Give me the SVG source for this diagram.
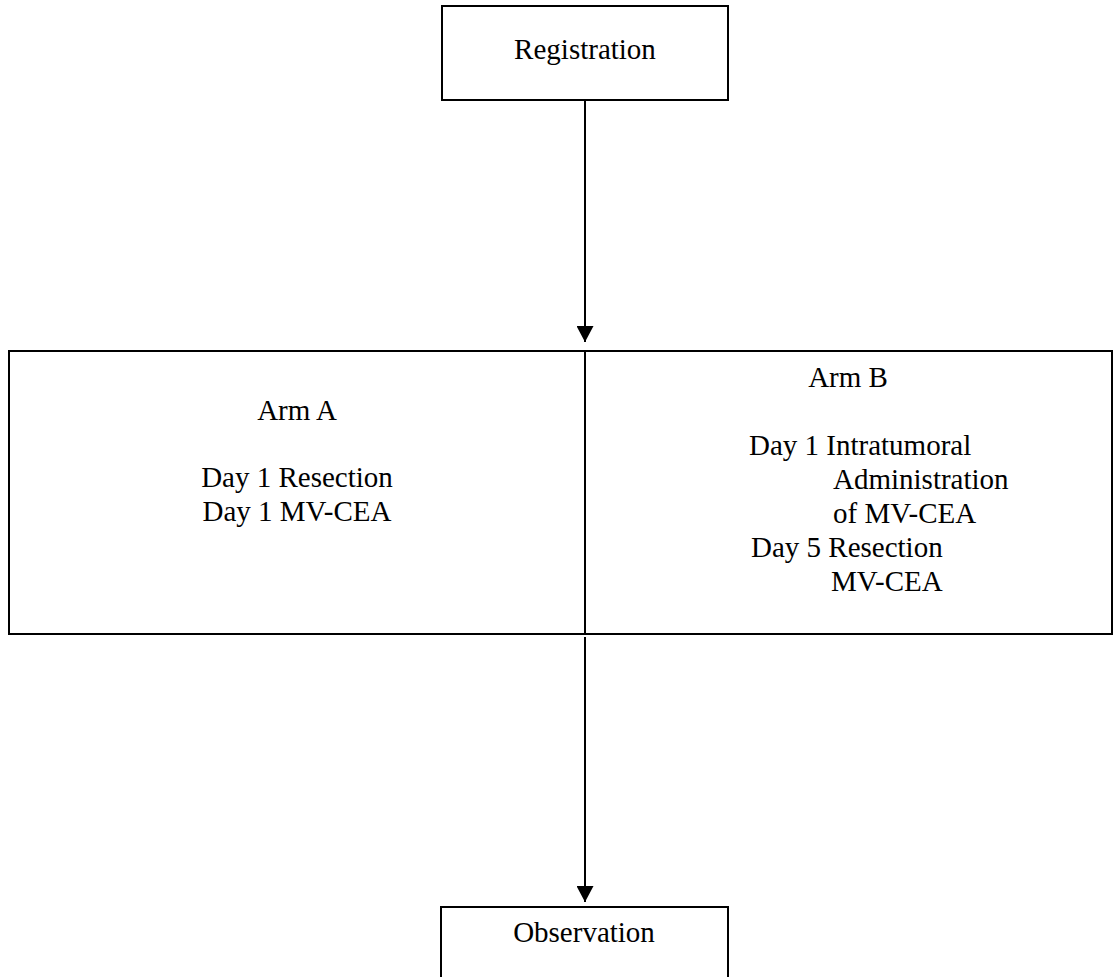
<svg xmlns="http://www.w3.org/2000/svg" width="1115" height="977" viewBox="0 0 1115 977">
<style>
  .box { fill: #ffffff; stroke: #000000; stroke-width: 2; }
  .conn { stroke: #000000; stroke-width: 2; fill: none; }
  text { font-family: "Liberation Serif", "Times New Roman", serif; font-size: 29px; fill: #000000; }
  .c { text-anchor: middle; }
</style>
<defs>
  <marker id="arrow" viewBox="0 0 16 17" refX="16" refY="8.5" markerWidth="16" markerHeight="17" markerUnits="userSpaceOnUse" orient="auto">
    <path d="M0,0 L16,8.5 L0,17 Z" fill="#000000"/>
  </marker>
</defs>
<rect width="1115" height="977" fill="#ffffff"/>
<g id="registration">
  <rect class="box" x="442" y="6" width="286" height="94"/>
  <text class="c" x="585" y="59">Registration</text>
</g>
<g id="arms">
  <rect class="box" x="9" y="351" width="1103" height="283"/>
  <line class="conn" x1="585" y1="351" x2="585" y2="634"/>
  <g id="armA">
    <text class="c" x="297" y="420">Arm A</text>
    <text class="c" x="297" y="487">Day 1 Resection</text>
    <text class="c" x="297" y="521">Day 1 MV-CEA</text>
  </g>
  <g id="armB">
    <text class="c" x="848" y="387">Arm B</text>
    <text x="749" y="455">Day 1 Intratumoral</text>
    <text x="833" y="489">Administration</text>
    <text x="833" y="523">of MV-CEA</text>
    <text x="751" y="557">Day 5 Resection</text>
    <text x="831" y="591">MV-CEA</text>
  </g>
</g>
<g id="observation">
  <path class="box" d="M441,980 L441,907 L728,907 L728,980"/>
  <text class="c" x="584" y="942">Observation</text>
</g>
<g id="connectors">
  <line class="conn" x1="585" y1="100" x2="585" y2="342" marker-end="url(#arrow)"/>
  <line class="conn" x1="585" y1="637" x2="585" y2="902" marker-end="url(#arrow)"/>
</g>
</svg>
